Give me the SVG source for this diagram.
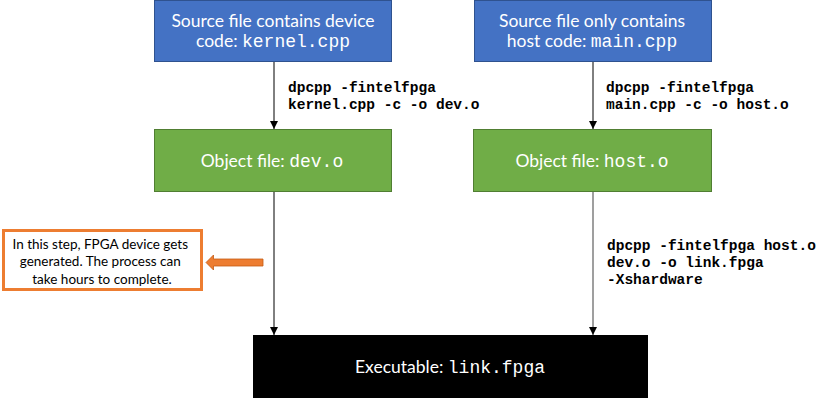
<svg xmlns="http://www.w3.org/2000/svg" width="830" height="403" viewBox="0 0 830 403">
<style>
.sans{font-family:Lato,"Liberation Sans",Arial,sans-serif;font-size:17.5px;fill:#fff}
.mono{font-family:"Liberation Mono","Courier New",monospace}
.cmd{font-family:"Liberation Mono","Courier New",monospace;font-weight:bold;font-size:14.5px;fill:#000}
.blue{fill:#4472C4;stroke:#2F528F;stroke-width:1}
.green{fill:#70AD47;stroke:#507E32;stroke-width:1}
.conn{stroke:#000;stroke-width:1;fill:none}
</style>
<defs>
<marker id="ah" viewBox="0 0 10 10" refX="10" refY="5" markerWidth="8" markerHeight="8" markerUnits="userSpaceOnUse" orient="auto">
<path d="M0,0 L10,5 L0,10 Z" fill="#000"/>
</marker>
</defs>
<rect width="830" height="403" fill="#fff"/>
<g id="src-kernel">
<rect class="blue" x="154.5" y="0.5" width="237" height="61"/>
<text class="sans" x="273" y="27" text-anchor="middle">Source file contains device</text>
<text class="sans" x="273" y="47" text-anchor="middle">code: <tspan class="mono" font-size="18">kernel.cpp</tspan></text>
</g>
<g id="src-main">
<rect class="blue" x="474.5" y="0.5" width="237" height="61"/>
<text class="sans" x="592" y="27" text-anchor="middle">Source file only contains</text>
<text class="sans" x="592" y="47" text-anchor="middle">host code: <tspan class="mono" font-size="18">main.cpp</tspan></text>
</g>
<g id="obj-dev">
<rect class="green" x="154.5" y="129.5" width="237" height="62"/>
<text class="sans" x="272" y="167" text-anchor="middle">Object file: <tspan class="mono" font-size="18">dev.o</tspan></text>
</g>
<g id="obj-host">
<rect class="green" x="473.5" y="129.5" width="238" height="62"/>
<text class="sans" x="592" y="167" text-anchor="middle">Object file: <tspan class="mono" font-size="18">host.o</tspan></text>
</g>
<g id="exe">
<rect x="253" y="335" width="395" height="63" fill="#000"/>
<text class="sans" x="450" y="373" text-anchor="middle">Executable: <tspan class="mono" font-size="18">link.fpga</tspan></text>
</g>
<g id="note">
<rect x="3.5" y="230.5" width="198" height="59" fill="#fff" stroke="#ED7D31" stroke-width="3"/>
<text font-family="Lato,'Liberation Sans',Arial,sans-serif" font-size="13.5" fill="#000" text-anchor="middle">
<tspan x="102" y="249">In this step, FPGA device gets</tspan>
<tspan x="102" y="266">generated. The process can</tspan>
<tspan x="102" y="284">take hours to complete.</tspan>
</text>
</g>
<g id="connectors">
<line class="conn" x1="274" y1="62" x2="274" y2="129" marker-end="url(#ah)"/>
<line class="conn" x1="593" y1="62" x2="593" y2="129" marker-end="url(#ah)"/>
<line class="conn" x1="274" y1="192" x2="274" y2="335" marker-end="url(#ah)"/>
<line x1="593" y1="192" x2="593" y2="335" stroke="#7f7f7f" stroke-width="1.5" marker-end="url(#ah)"/>
<path d="M206,262.5 L213.5,255 L213.5,259 L263,259 L263,266 L213.5,266 L213.5,270 Z" fill="#ED7D31" stroke="#C55A11" stroke-width="0.8"/>
<text class="cmd"><tspan x="288" y="92">dpcpp -fintelfpga</tspan><tspan x="288" y="109">kernel.cpp -c -o dev.o</tspan></text>
<text class="cmd"><tspan x="606" y="92">dpcpp -fintelfpga</tspan><tspan x="606" y="109">main.cpp -c -o host.o</tspan></text>
<text class="cmd"><tspan x="607" y="250">dpcpp -fintelfpga host.o</tspan><tspan x="607" y="267">dev.o -o link.fpga</tspan><tspan x="607" y="284">-Xshardware</tspan></text>
</g>
</svg>
